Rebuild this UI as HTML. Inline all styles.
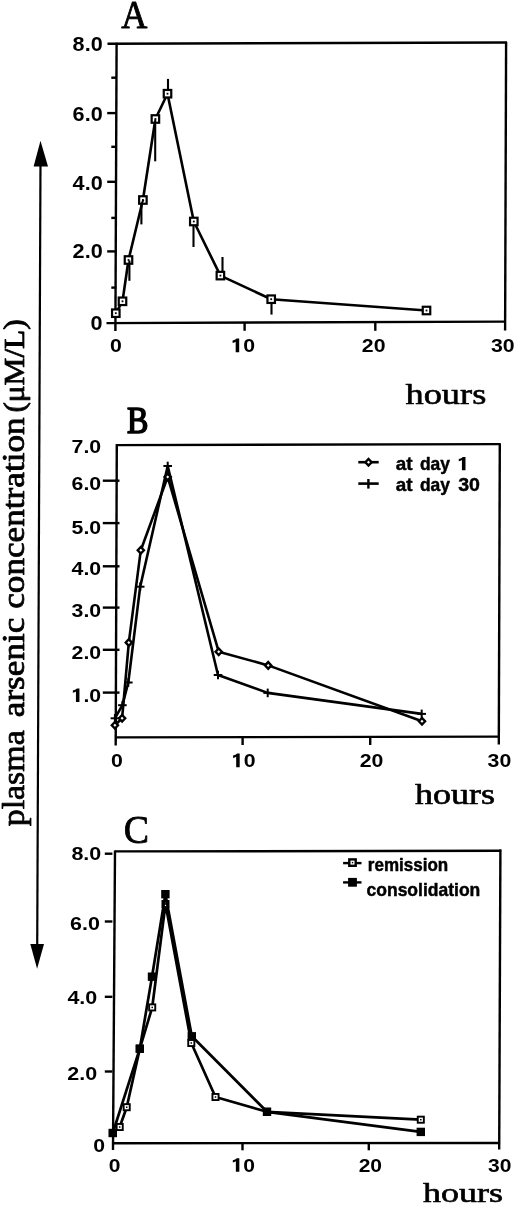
<!DOCTYPE html>
<html><head><meta charset="utf-8"><title>Plasma arsenic concentration</title>
<style>
html,body{margin:0;padding:0;background:#fff;}
body{width:520px;height:1209px;overflow:hidden;font-family:"Liberation Sans",sans-serif;}
svg{display:block;will-change:transform;}
</style></head>
<body>
<svg width="520" height="1209" viewBox="0 0 520 1209" stroke="#000" fill="#000" stroke-linecap="butt">
<text transform="translate(121.19,27.95) scale(0.9253,1)" font-family="Liberation Serif" font-weight="normal" font-size="39.09" stroke-width="0.9" stroke-linejoin="round">A</text>
<line x1="107.50" y1="43.70" x2="507.00" y2="42.50" stroke-width="2.4"/>
<line x1="506.10" y1="42.00" x2="505.10" y2="330.40" stroke-width="2.4"/>
<line x1="106.50" y1="323.10" x2="505.00" y2="321.60" stroke-width="2.4"/>
<line x1="116.60" y1="42.80" x2="115.40" y2="331.00" stroke-width="2.4"/>
<line x1="107.20" y1="113.10" x2="116.40" y2="113.10" stroke-width="2.4"/>
<line x1="107.20" y1="181.80" x2="116.40" y2="181.80" stroke-width="2.4"/>
<line x1="107.20" y1="251.40" x2="116.40" y2="251.40" stroke-width="2.4"/>
<line x1="111.30" y1="77.70" x2="116.40" y2="77.70" stroke-width="2.4"/>
<line x1="111.30" y1="146.80" x2="116.40" y2="146.80" stroke-width="2.4"/>
<line x1="111.30" y1="217.90" x2="116.40" y2="217.90" stroke-width="2.4"/>
<line x1="111.30" y1="287.60" x2="116.40" y2="287.60" stroke-width="2.4"/>
<line x1="244.60" y1="322.50" x2="244.60" y2="330.80" stroke-width="2.4"/>
<line x1="375.30" y1="322.50" x2="375.30" y2="330.80" stroke-width="2.4"/>
<text transform="translate(72.62,50.60) scale(1.1200,1)" font-family="Liberation Sans" font-weight="bold" font-size="19.30" stroke="none">8.0</text>
<text transform="translate(72.62,120.60) scale(1.1200,1)" font-family="Liberation Sans" font-weight="bold" font-size="19.30" stroke="none">6.0</text>
<text transform="translate(72.62,189.60) scale(1.1200,1)" font-family="Liberation Sans" font-weight="bold" font-size="19.30" stroke="none">4.0</text>
<text transform="translate(72.62,258.00) scale(1.1200,1)" font-family="Liberation Sans" font-weight="bold" font-size="19.30" stroke="none">2.0</text>
<text transform="translate(90.47,329.80) scale(1.1200,1)" font-family="Liberation Sans" font-weight="bold" font-size="19.30" stroke="none">0</text>
<text transform="translate(110.09,352.20) scale(1.1200,1)" font-family="Liberation Sans" font-weight="bold" font-size="19.00" stroke="none">0</text>
<path transform="translate(231.32,352.20) scale(21.280,19.000)" d="M0.205,0 L0.37,0 L0.37,-0.72 L0.25,-0.72 Q0.19,-0.64 0.06,-0.61 L0.06,-0.49 Q0.15,-0.51 0.205,-0.555 Z" stroke="none"/>
<text transform="translate(243.16,352.20) scale(1.1200,1)" font-family="Liberation Sans" font-weight="bold" font-size="19.00" stroke="none">0</text>
<text transform="translate(361.84,352.20) scale(1.1200,1)" font-family="Liberation Sans" font-weight="bold" font-size="19.00" stroke="none">20</text>
<text transform="translate(490.95,352.20) scale(1.1200,1)" font-family="Liberation Sans" font-weight="bold" font-size="19.00" stroke="none">30</text>
<text transform="translate(405.54,404.00) scale(1.2255,1)" font-family="Liberation Serif" font-weight="normal" font-size="29.65" stroke-width="0.6" stroke-linejoin="round">hours</text>
<line x1="141.40" y1="200.00" x2="141.40" y2="224.40" stroke-width="2.1"/>
<line x1="168.00" y1="93.70" x2="168.00" y2="78.90" stroke-width="2.1"/>
<line x1="193.50" y1="221.50" x2="193.50" y2="247.00" stroke-width="2.1"/>
<line x1="222.50" y1="275.60" x2="222.50" y2="257.00" stroke-width="2.1"/>
<line x1="271.50" y1="299.20" x2="271.50" y2="314.60" stroke-width="2.1"/>
<polyline points="115.80,313.20 122.50,301.30 128.50,260.00 142.90,200.00 155.40,119.00 167.50,93.70 193.80,221.50 220.40,275.60 271.20,299.20 426.50,310.50" fill="none" stroke-width="2.6" stroke-linejoin="round"/>
<rect x="112.05" y="309.45" width="7.50" height="7.50" fill="#fff" stroke-width="2.2"/>
<rect x="114.90" y="312.30" width="1.8" height="1.8" fill="#000" stroke="none"/>
<rect x="118.75" y="297.55" width="7.50" height="7.50" fill="#fff" stroke-width="2.2"/>
<rect x="121.60" y="300.40" width="1.8" height="1.8" fill="#000" stroke="none"/>
<rect x="124.75" y="256.25" width="7.50" height="7.50" fill="#fff" stroke-width="2.2"/>
<rect x="127.60" y="259.10" width="1.8" height="1.8" fill="#000" stroke="none"/>
<rect x="139.15" y="196.25" width="7.50" height="7.50" fill="#fff" stroke-width="2.2"/>
<rect x="142.00" y="199.10" width="1.8" height="1.8" fill="#000" stroke="none"/>
<rect x="151.65" y="115.25" width="7.50" height="7.50" fill="#fff" stroke-width="2.2"/>
<rect x="154.50" y="118.10" width="1.8" height="1.8" fill="#000" stroke="none"/>
<rect x="163.75" y="89.95" width="7.50" height="7.50" fill="#fff" stroke-width="2.2"/>
<rect x="166.60" y="92.80" width="1.8" height="1.8" fill="#000" stroke="none"/>
<rect x="190.05" y="217.75" width="7.50" height="7.50" fill="#fff" stroke-width="2.2"/>
<rect x="192.90" y="220.60" width="1.8" height="1.8" fill="#000" stroke="none"/>
<rect x="216.65" y="271.85" width="7.50" height="7.50" fill="#fff" stroke-width="2.2"/>
<rect x="219.50" y="274.70" width="1.8" height="1.8" fill="#000" stroke="none"/>
<rect x="267.45" y="295.45" width="7.50" height="7.50" fill="#fff" stroke-width="2.2"/>
<rect x="270.30" y="298.30" width="1.8" height="1.8" fill="#000" stroke="none"/>
<rect x="422.75" y="306.75" width="7.50" height="7.50" fill="#fff" stroke-width="2.2"/>
<rect x="425.60" y="309.60" width="1.8" height="1.8" fill="#000" stroke="none"/>
<line x1="129.40" y1="260.50" x2="129.40" y2="280.80" stroke-width="2.1"/>
<line x1="155.20" y1="119.50" x2="155.20" y2="161.30" stroke-width="2.1"/>
<line x1="141.60" y1="204.00" x2="143.40" y2="199.60" stroke-width="2.0"/>
<text transform="translate(127.09,432.76) scale(0.8630,1)" font-family="Liberation Serif" font-weight="normal" font-size="37.12" stroke-width="1.7" stroke-linejoin="round">B</text>
<line x1="116.80" y1="445.10" x2="500.80" y2="444.10" stroke-width="2.4"/>
<line x1="499.80" y1="444.00" x2="498.80" y2="744.50" stroke-width="2.4"/>
<line x1="115.00" y1="737.40" x2="499.50" y2="736.60" stroke-width="2.4"/>
<line x1="116.80" y1="444.00" x2="115.70" y2="745.60" stroke-width="2.4"/>
<line x1="102.80" y1="480.70" x2="119.50" y2="480.70" stroke-width="2.4"/>
<line x1="102.80" y1="523.10" x2="119.50" y2="523.10" stroke-width="2.4"/>
<line x1="102.80" y1="566.30" x2="119.50" y2="566.30" stroke-width="2.4"/>
<line x1="102.80" y1="607.60" x2="119.50" y2="607.60" stroke-width="2.4"/>
<line x1="102.80" y1="649.80" x2="119.50" y2="649.80" stroke-width="2.4"/>
<line x1="102.80" y1="692.60" x2="119.50" y2="692.60" stroke-width="2.4"/>
<line x1="242.60" y1="736.80" x2="242.60" y2="745.00" stroke-width="2.4"/>
<line x1="370.20" y1="736.80" x2="370.20" y2="745.00" stroke-width="2.4"/>
<text transform="translate(71.57,452.80) scale(1.1200,1)" font-family="Liberation Sans" font-weight="bold" font-size="19.00" stroke="none">7.0</text>
<text transform="translate(71.57,489.60) scale(1.1200,1)" font-family="Liberation Sans" font-weight="bold" font-size="19.00" stroke="none">6.0</text>
<text transform="translate(71.57,534.10) scale(1.1200,1)" font-family="Liberation Sans" font-weight="bold" font-size="19.00" stroke="none">5.0</text>
<text transform="translate(71.57,575.30) scale(1.1200,1)" font-family="Liberation Sans" font-weight="bold" font-size="19.00" stroke="none">4.0</text>
<text transform="translate(71.57,617.40) scale(1.1200,1)" font-family="Liberation Sans" font-weight="bold" font-size="19.00" stroke="none">3.0</text>
<text transform="translate(71.57,658.70) scale(1.1200,1)" font-family="Liberation Sans" font-weight="bold" font-size="19.00" stroke="none">2.0</text>
<path transform="translate(71.57,702.10) scale(21.280,19.000)" d="M0.205,0 L0.37,0 L0.37,-0.72 L0.25,-0.72 Q0.19,-0.64 0.06,-0.61 L0.06,-0.49 Q0.15,-0.51 0.205,-0.555 Z" stroke="none"/>
<text transform="translate(83.41,702.10) scale(1.1200,1)" font-family="Liberation Sans" font-weight="bold" font-size="19.00" stroke="none">.0</text>
<text transform="translate(110.89,767.20) scale(1.1200,1)" font-family="Liberation Sans" font-weight="bold" font-size="19.00" stroke="none">0</text>
<path transform="translate(231.82,767.20) scale(21.280,19.000)" d="M0.205,0 L0.37,0 L0.37,-0.72 L0.25,-0.72 Q0.19,-0.64 0.06,-0.61 L0.06,-0.49 Q0.15,-0.51 0.205,-0.555 Z" stroke="none"/>
<text transform="translate(243.66,767.20) scale(1.1200,1)" font-family="Liberation Sans" font-weight="bold" font-size="19.00" stroke="none">0</text>
<text transform="translate(359.64,767.20) scale(1.1200,1)" font-family="Liberation Sans" font-weight="bold" font-size="19.00" stroke="none">20</text>
<text transform="translate(487.55,767.20) scale(1.1200,1)" font-family="Liberation Sans" font-weight="bold" font-size="19.00" stroke="none">30</text>
<text transform="translate(414.94,803.71) scale(1.2584,1)" font-family="Liberation Serif" font-weight="normal" font-size="28.65" stroke-width="0.6" stroke-linejoin="round">hours</text>
<line x1="358.30" y1="462.20" x2="378.70" y2="462.20" stroke-width="2.6"/>
<polygon points="365.40,462.30 368.50,459.00 371.60,462.30 368.50,465.60" fill="#fff" stroke-width="2.4"/>
<line x1="358.30" y1="483.60" x2="378.70" y2="483.60" stroke-width="2.6"/>
<line x1="368.40" y1="479.00" x2="368.40" y2="488.60" stroke-width="2.4"/>
<text transform="translate(395.66,470.20) scale(1.0315,1)" font-family="Liberation Sans" font-weight="bold" font-size="18.30" stroke-width="0.436" stroke-linejoin="round">at</text>
<text transform="translate(419.93,470.20) scale(0.9542,1)" font-family="Liberation Sans" font-weight="bold" font-size="18.30" stroke-width="0.472" stroke-linejoin="round">day</text>
<path transform="translate(457.50,470.20) scale(21.613,18.300)" d="M0.205,0 L0.37,0 L0.37,-0.72 L0.25,-0.72 Q0.19,-0.64 0.06,-0.61 L0.06,-0.49 Q0.15,-0.51 0.205,-0.555 Z" stroke="none"/>
<text transform="translate(395.66,491.40) scale(1.0315,1)" font-family="Liberation Sans" font-weight="bold" font-size="18.30" stroke-width="0.436" stroke-linejoin="round">at</text>
<text transform="translate(419.93,491.40) scale(0.9542,1)" font-family="Liberation Sans" font-weight="bold" font-size="18.30" stroke-width="0.472" stroke-linejoin="round">day</text>
<text transform="translate(458.24,491.40) scale(1.0694,1)" font-family="Liberation Sans" font-weight="bold" font-size="18.30" stroke-width="0.421" stroke-linejoin="round">30</text>
<polyline points="114.90,725.20 122.10,718.30 128.80,642.60 140.80,550.20 167.70,476.90 218.70,651.70 268.20,665.40 422.00,721.20" fill="none" stroke-width="2.6" stroke-linejoin="round"/>
<polyline points="114.90,718.30 122.40,705.20 128.30,682.50 140.20,586.70 167.70,466.00 218.00,675.00 267.70,692.90 421.70,713.90" fill="none" stroke-width="2.6" stroke-linejoin="round"/>
<polygon points="111.80,725.20 114.90,721.90 118.00,725.20 114.90,728.50" fill="#fff" stroke-width="2.4"/>
<polygon points="119.00,718.30 122.10,715.00 125.20,718.30 122.10,721.60" fill="#fff" stroke-width="2.4"/>
<polygon points="125.70,642.60 128.80,639.30 131.90,642.60 128.80,645.90" fill="#fff" stroke-width="2.4"/>
<polygon points="137.70,550.20 140.80,546.90 143.90,550.20 140.80,553.50" fill="#fff" stroke-width="2.4"/>
<polygon points="164.60,476.90 167.70,473.60 170.80,476.90 167.70,480.20" fill="#fff" stroke-width="2.4"/>
<polygon points="215.60,651.70 218.70,648.40 221.80,651.70 218.70,655.00" fill="#fff" stroke-width="2.4"/>
<polygon points="265.10,665.40 268.20,662.10 271.30,665.40 268.20,668.70" fill="#fff" stroke-width="2.4"/>
<polygon points="418.90,721.20 422.00,717.90 425.10,721.20 422.00,724.50" fill="#fff" stroke-width="2.4"/>
<line x1="110.60" y1="718.30" x2="119.20" y2="718.30" stroke-width="2.0"/>
<line x1="114.90" y1="714.00" x2="114.90" y2="722.60" stroke-width="2.0"/>
<line x1="118.10" y1="705.20" x2="126.70" y2="705.20" stroke-width="2.0"/>
<line x1="122.40" y1="700.90" x2="122.40" y2="709.50" stroke-width="2.0"/>
<line x1="124.00" y1="682.50" x2="132.60" y2="682.50" stroke-width="2.0"/>
<line x1="128.30" y1="678.20" x2="128.30" y2="686.80" stroke-width="2.0"/>
<line x1="135.90" y1="586.70" x2="144.50" y2="586.70" stroke-width="2.0"/>
<line x1="140.20" y1="582.40" x2="140.20" y2="591.00" stroke-width="2.0"/>
<line x1="163.40" y1="466.00" x2="172.00" y2="466.00" stroke-width="2.0"/>
<line x1="167.70" y1="461.70" x2="167.70" y2="470.30" stroke-width="2.0"/>
<line x1="213.70" y1="675.00" x2="222.30" y2="675.00" stroke-width="2.0"/>
<line x1="218.00" y1="670.70" x2="218.00" y2="679.30" stroke-width="2.0"/>
<line x1="263.40" y1="692.90" x2="272.00" y2="692.90" stroke-width="2.0"/>
<line x1="267.70" y1="688.60" x2="267.70" y2="697.20" stroke-width="2.0"/>
<line x1="417.40" y1="713.90" x2="426.00" y2="713.90" stroke-width="2.0"/>
<line x1="421.70" y1="709.60" x2="421.70" y2="718.20" stroke-width="2.0"/>
<text transform="translate(123.78,842.60) scale(0.9438,1)" font-family="Liberation Serif" font-weight="normal" font-size="40.15" stroke-width="0.8" stroke-linejoin="round">C</text>
<line x1="114.80" y1="851.40" x2="501.20" y2="850.80" stroke-width="2.4"/>
<line x1="500.40" y1="849.40" x2="499.20" y2="1149.50" stroke-width="2.4"/>
<line x1="113.00" y1="1143.20" x2="499.80" y2="1143.00" stroke-width="2.4"/>
<line x1="115.00" y1="850.60" x2="113.00" y2="1150.00" stroke-width="2.4"/>
<line x1="104.80" y1="853.70" x2="112.40" y2="853.70" stroke-width="2.4"/>
<line x1="104.80" y1="921.50" x2="112.40" y2="921.50" stroke-width="2.4"/>
<line x1="104.80" y1="996.80" x2="112.40" y2="996.80" stroke-width="2.4"/>
<line x1="104.80" y1="1071.50" x2="112.40" y2="1071.50" stroke-width="2.4"/>
<line x1="242.50" y1="1143.00" x2="242.50" y2="1150.30" stroke-width="2.4"/>
<line x1="368.80" y1="1143.00" x2="368.80" y2="1150.30" stroke-width="2.4"/>
<text transform="translate(71.41,859.90) scale(1.1800,1)" font-family="Liberation Sans" font-weight="bold" font-size="18.20" stroke="none">8.0</text>
<text transform="translate(70.01,930.30) scale(1.1800,1)" font-family="Liberation Sans" font-weight="bold" font-size="18.20" stroke="none">6.0</text>
<text transform="translate(67.41,1004.10) scale(1.1800,1)" font-family="Liberation Sans" font-weight="bold" font-size="18.20" stroke="none">4.0</text>
<text transform="translate(67.31,1079.50) scale(1.1800,1)" font-family="Liberation Sans" font-weight="bold" font-size="18.20" stroke="none">2.0</text>
<text transform="translate(93.29,1152.10) scale(1.1900,1)" font-family="Liberation Sans" font-weight="bold" font-size="17.80" stroke="none">0</text>
<text transform="translate(108.76,1171.70) scale(1.1200,1)" font-family="Liberation Sans" font-weight="bold" font-size="18.80" stroke="none">0</text>
<path transform="translate(231.55,1171.70) scale(21.056,18.800)" d="M0.205,0 L0.37,0 L0.37,-0.72 L0.25,-0.72 Q0.19,-0.64 0.06,-0.61 L0.06,-0.49 Q0.15,-0.51 0.205,-0.555 Z" stroke="none"/>
<text transform="translate(243.26,1171.70) scale(1.1200,1)" font-family="Liberation Sans" font-weight="bold" font-size="18.80" stroke="none">0</text>
<text transform="translate(358.67,1171.70) scale(1.1200,1)" font-family="Liberation Sans" font-weight="bold" font-size="18.80" stroke="none">20</text>
<text transform="translate(488.07,1171.70) scale(1.1200,1)" font-family="Liberation Sans" font-weight="bold" font-size="18.80" stroke="none">30</text>
<text transform="translate(423.04,1201.72) scale(1.3019,1)" font-family="Liberation Serif" font-weight="normal" font-size="27.66" stroke-width="0.6" stroke-linejoin="round">hours</text>
<line x1="343.10" y1="863.10" x2="361.50" y2="863.10" stroke-width="2.4"/>
<rect x="349.30" y="859.40" width="6.40" height="6.40" fill="#fff" stroke-width="2.4"/>
<rect x="351.80" y="861.90" width="1.4" height="1.4" fill="#000" stroke="none"/>
<line x1="343.10" y1="882.40" x2="361.50" y2="882.40" stroke-width="2.4"/>
<rect x="348.10" y="877.90" width="8.80" height="8.80" fill="#000" stroke="none"/>
<text transform="translate(367.87,870.90) scale(0.9404,1)" font-family="Liberation Sans" font-weight="bold" font-size="18.10" stroke-width="0.479" stroke-linejoin="round">remission</text>
<text transform="translate(366.52,895.90) scale(0.9673,1)" font-family="Liberation Sans" font-weight="bold" font-size="18.10" stroke-width="0.465" stroke-linejoin="round">consolidation</text>
<polyline points="112.80,1133.00 119.70,1127.00 126.70,1107.20 139.80,1048.70 152.20,1007.40 165.50,904.00 191.30,1043.00 215.50,1097.00 267.00,1111.80 420.80,1119.70" fill="none" stroke-width="2.7" stroke-linejoin="round"/>
<rect x="109.75" y="1129.95" width="6.10" height="6.10" fill="#fff" stroke-width="1.9"/>
<rect x="112.05" y="1132.25" width="1.5" height="1.5" fill="#000" stroke="none"/>
<rect x="116.65" y="1123.95" width="6.10" height="6.10" fill="#fff" stroke-width="1.9"/>
<rect x="118.95" y="1126.25" width="1.5" height="1.5" fill="#000" stroke="none"/>
<rect x="123.65" y="1104.15" width="6.10" height="6.10" fill="#fff" stroke-width="1.9"/>
<rect x="125.95" y="1106.45" width="1.5" height="1.5" fill="#000" stroke="none"/>
<rect x="136.75" y="1045.65" width="6.10" height="6.10" fill="#fff" stroke-width="1.9"/>
<rect x="139.05" y="1047.95" width="1.5" height="1.5" fill="#000" stroke="none"/>
<rect x="149.15" y="1004.35" width="6.10" height="6.10" fill="#fff" stroke-width="1.9"/>
<rect x="151.45" y="1006.65" width="1.5" height="1.5" fill="#000" stroke="none"/>
<rect x="162.45" y="900.95" width="6.10" height="6.10" fill="#fff" stroke-width="1.9"/>
<rect x="164.75" y="903.25" width="1.5" height="1.5" fill="#000" stroke="none"/>
<rect x="188.25" y="1039.95" width="6.10" height="6.10" fill="#fff" stroke-width="1.9"/>
<rect x="190.55" y="1042.25" width="1.5" height="1.5" fill="#000" stroke="none"/>
<rect x="212.45" y="1093.95" width="6.10" height="6.10" fill="#fff" stroke-width="1.9"/>
<rect x="214.75" y="1096.25" width="1.5" height="1.5" fill="#000" stroke="none"/>
<rect x="263.95" y="1108.75" width="6.10" height="6.10" fill="#fff" stroke-width="1.9"/>
<rect x="266.25" y="1111.05" width="1.5" height="1.5" fill="#000" stroke="none"/>
<rect x="417.75" y="1116.65" width="6.10" height="6.10" fill="#fff" stroke-width="1.9"/>
<rect x="420.05" y="1118.95" width="1.5" height="1.5" fill="#000" stroke="none"/>
<polyline points="112.80,1133.00 139.80,1048.70 152.00,976.70 165.40,894.20 191.80,1036.30 267.00,1111.80 420.80,1131.90" fill="none" stroke-width="2.7" stroke-linejoin="round"/>
<rect x="108.60" y="1128.80" width="8.40" height="8.40" fill="#000" stroke="none"/>
<rect x="135.60" y="1044.50" width="8.40" height="8.40" fill="#000" stroke="none"/>
<rect x="147.80" y="972.50" width="8.40" height="8.40" fill="#000" stroke="none"/>
<rect x="161.20" y="890.00" width="8.40" height="8.40" fill="#000" stroke="none"/>
<rect x="187.60" y="1032.10" width="8.40" height="8.40" fill="#000" stroke="none"/>
<rect x="262.80" y="1107.60" width="8.40" height="8.40" fill="#000" stroke="none"/>
<rect x="416.60" y="1127.70" width="8.40" height="8.40" fill="#000" stroke="none"/>
<line x1="40.50" y1="160.00" x2="37.20" y2="950.00" stroke-width="2.2"/>
<polygon points="40.5,140.8 48.0,166.4 33.6,166.4" fill="#000" stroke="none"/>
<polygon points="37.1,968.8 44.0,944.0 30.3,944.0" fill="#000" stroke="none"/>
<text transform="translate(24.20,826.31) rotate(-90) scale(1.0400,1)" font-family="Liberation Serif" font-weight="normal" font-size="32.6" stroke-width="0.8" stroke-linejoin="round">plasma</text>
<text transform="translate(24.20,717.23) rotate(-90) scale(1.0800,1)" font-family="Liberation Serif" font-weight="normal" font-size="32.6" stroke-width="0.8" stroke-linejoin="round">arsenic concentration</text>
<text transform="translate(24.20,412.61) rotate(-90) scale(1.0798,1)" font-family="Liberation Serif" font-weight="normal" font-size="29.0" stroke-width="0.8" stroke-linejoin="round">(μM/L)</text>
</svg>
</body></html>
